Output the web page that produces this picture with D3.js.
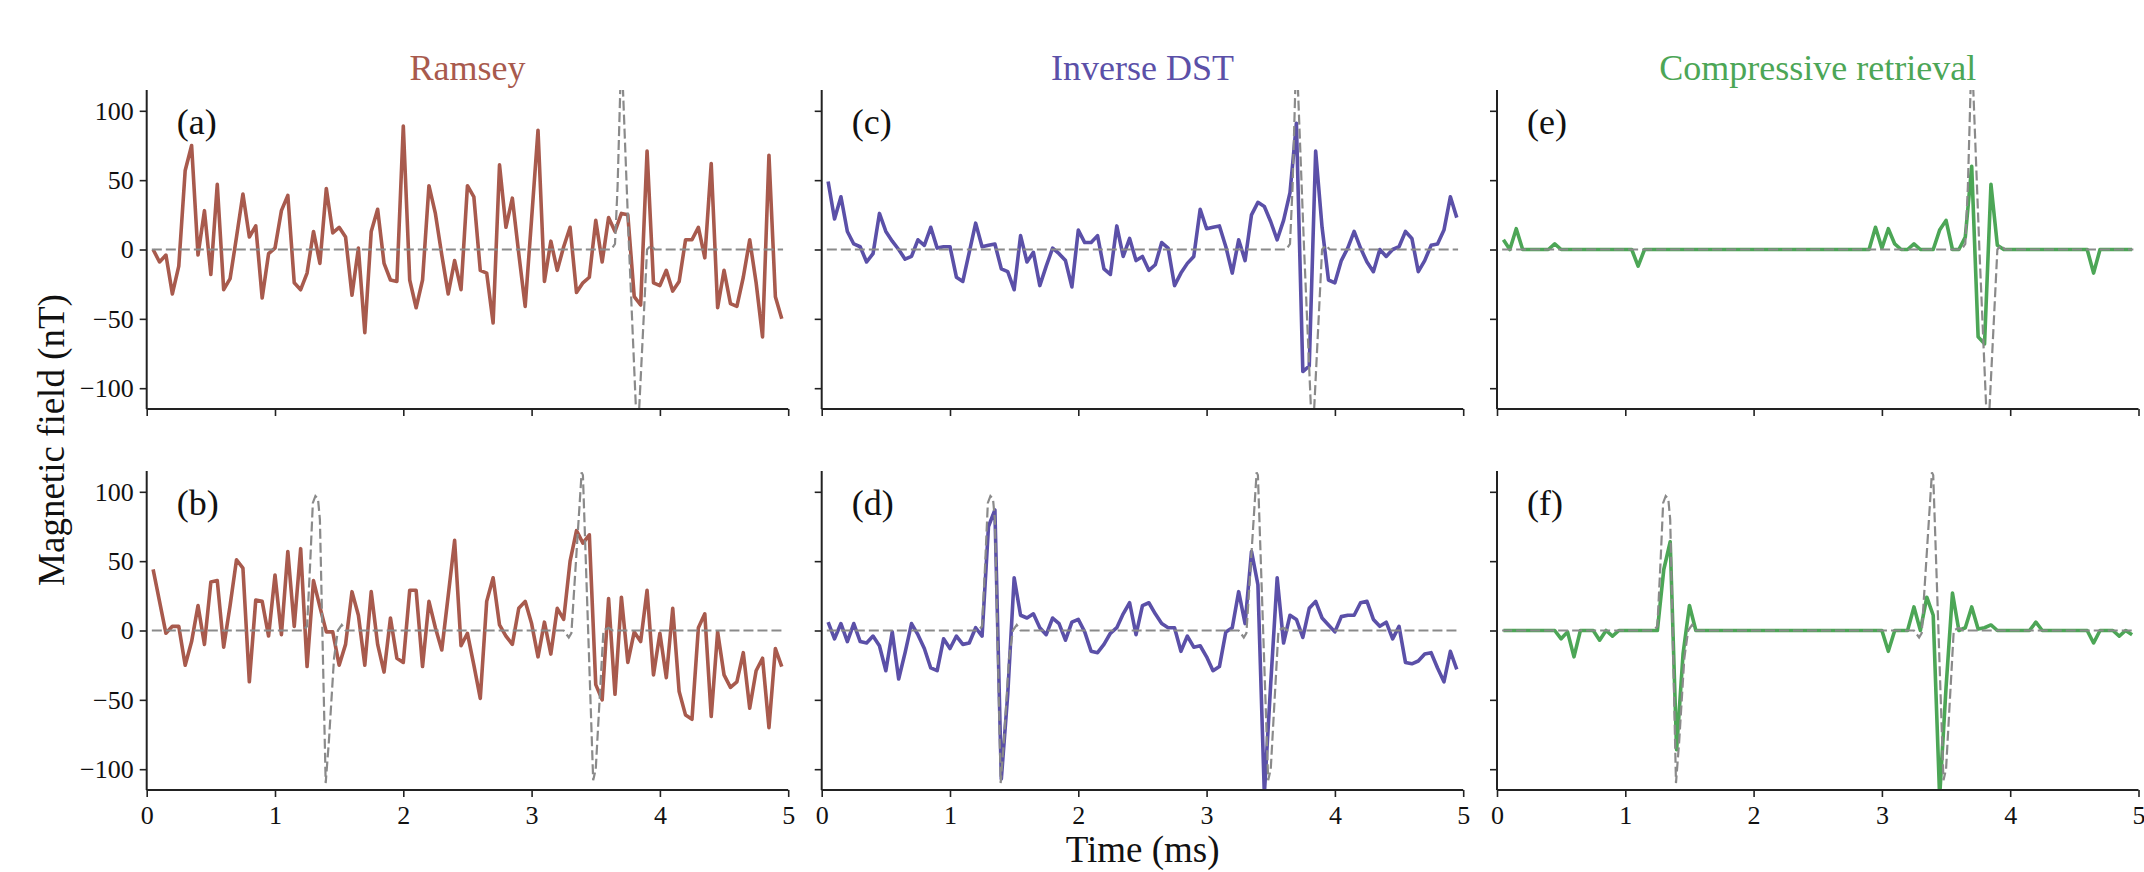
<!DOCTYPE html>
<html>
<head>
<meta charset="utf-8">
<script src="https://cdn.jsdelivr.net/npm/d3@7"></script>
<style>
  html, body { margin: 0; padding: 0; background: #fff; }
  svg { display: block; }
  text { font-family: "Liberation Serif", "Times New Roman", serif; }
</style>
</head>
<body>
<svg id="fig" width="2144" height="872"></svg>
<script>
// Sample times (ms) shared by every reconstructed trace
const times = d3.range(1, 100).map(k => +(k * 0.05).toFixed(2));

// Ramsey reconstruction, single pulse (a) and double pulse (b), nT
const ramseyTop = [0, -9, -4, -32, -12, 57, 75, -4, 28, -18, 47, -29, -21, 9, 40, 9, 17, -35, -3, 1,
  28, 39, -24, -29, -17, 13, -10, 44, 12, 16, 9, -33, 1, -60, 13, 29, -10, -22, -23, 89,
  -22, -42, -22, 46, 26, -4, -32, -8, -29, 46, 38, -15, -17, -53, 61, 16, 37, -3, -41, 22,
  86, -23, 6, -15, 2, 16, -31, -24, -20, 21, -9, 23, 13, 26, 25, -34, -40, 71, -24, -26,
  -15, -30, -23, 7, 7, 16, -6, 62, -42, -15, -39, -41, -20, 7, -24, -63, 68, -34, -50];
const ramseyBottom = [44, 21, -2, 3, 3, -25, -8, 18, -10, 35, 36, -12, 18, 51, 45, -37, 22, 21, -4, 40,
  -3, 57, 3, 59, -26, 36, 17, -1, -1, -25, -10, 28, 11, -25, 28, -10, -30, 9, -20, -23,
  29, 29, -26, 21, 2, -14, 25, 65, -11, -2, -25, -49, 21, 38, 4, -4, -10, 16, 21, 5,
  -19, 6, -17, 16, 8, 50, 72, 63, 69, -39, -50, 23, -46, 24, -23, -1, -8, 29, -32, -2,
  -34, 16, -44, -61, -64, 2, 12, -62, -1, -32, -41, -37, -16, -56, -29, -20, -70, -13, -26];

// Inverse DST reconstruction, (c) and (d), nT
const dstTop = [49, 22, 38, 13, 4, 2, -9, -3, 26, 13, 6, 0, -7, -5, 7, 3, 16, 1, 2, 2,
  -20, -23, -2, 19, 2, 3, 4, -14, -16, -29, 10, -9, -2, -26, -12, 1, -3, -8, -27, 14,
  5, 5, 10, -14, -18, 17, -5, 8, -8, -5, -15, -11, 5, 1, -26, -17, -10, -5, 29, 15,
  16, 17, 2, -17, 7, -8, 25, 34, 31, 20, 7, 21, 41, 91, -88, -84, 71, 16, -22, -24,
  -8, 1, 13, 1, -9, -16, 0, -5, 0, 2, 13, 8, -16, -8, 3, 4, 14, 38, 23];
const dstBottom = [6, -6, 5, -8, 5, -8, -9, -4, -11, -29, -1, -35, -16, 5, -3, -13, -27, -29, -6, -13,
  -4, -10, -9, 2, -4, 75, 87, -107, -46, 38, 11, 9, 12, 2, -3, 9, 5, -7, 6, 8,
  -1, -15, -16, -10, -2, 2, 12, 20, -3, 18, 20, 12, 5, 2, 2, -15, -4, -12, -11, -19,
  -29, -26, -1, 2, 28, 5, 57, 33, -118, -38, 38, -9, 11, 8, -5, 16, 21, 9, 4, -1,
  10, 11, 11, 20, 21, 8, 3, 6, -6, 3, -23, -24, -22, -17, -16, -27, -37, -15, -28];

// Compressive retrieval, (e) and (f), nT
const crTop = [7, 0, 15, 0, 0, 0, 0, 0, 4, 0, 0, 0, 0, 0, 0, 0, 0, 0, 0, 0,
  0, -12, 0, 0, 0, 0, 0, 0, 0, 0, 0, 0, 0, 0, 0, 0, 0, 0, 0, 0,
  0, 0, 0, 0, 0, 0, 0, 0, 0, 0, 0, 0, 0, 0, 0, 0, 0, 0, 16, 1,
  15, 4, 0, 0, 4, 0, 0, 0, 14, 21, 0, 0, 9, 60, -63, -68, 47, 3, 0, 0,
  0, 0, 0, 0, 0, 0, 0, 0, 0, 0, 0, 0, -17, 0, 0, 0, 0, 0, 0];
const crBottom = [0, 0, 0, 0, 0, 0, 0, 0, 0, -6, -1, -19, 0, 0, 0, -7, 0, -4, 0, 0,
  0, 0, 0, 0, 0, 44, 64, -86, -17, 18, 0, 0, 0, 0, 0, 0, 0, 0, 0, 0,
  0, 0, 0, 0, 0, 0, 0, 0, 0, 0, 0, 0, 0, 0, 0, 0, 0, 0, 0, 0,
  -15, 0, 0, 0, 17, 0, 24, 11, -120, -41, 27, 0, 2, 17, 1, 2, 4, 0, 0, 0,
  0, 0, 0, 6, 0, 0, 0, 0, 0, 0, 0, 0, -9, 0, 0, 0, -4, 0, -3];

// True field (dashed): breakpoints of the single and double pulse signals
const refTopT = [0.04, 3.62, 3.65, 3.67, 3.70, 3.76, 3.825, 3.90, 3.93, 3.96, 4.96];
const refTopV = [0, 0, 4, 45, 145, 0, -140, 0, 3, 0, 0];
const refBottomT = [0.04, 1.22, 1.25, 1.275, 1.295, 1.315, 1.335, 1.35, 1.395, 1.42, 1.46, 1.49, 1.52, 1.55,
  3.25, 3.29, 3.31, 3.39, 3.40, 3.48, 3.50, 3.56, 3.60, 3.63, 4.96];
const refBottomV = [0, 0, 3, 50, 92, 97, 95, 80, -110, -80, -20, 0, 4, 0,
  0, -5, -2, 114, 112, -108, -100, 0, 2, 0, 0];

const methods = ["Ramsey", "Inverse DST", "Compressive retrieval"];
const methodColors = ["#a85a4d", "#5b50a8", "#4ca656"];
const panelLabels = [["(a)", "(b)"], ["(c)", "(d)"], ["(e)", "(f)"]];
const xTicks = [0, 1, 2, 3, 4, 5];
const yTicks = [-100, -50, 0, 50, 100];

const series = [[ramseyTop, ramseyBottom], [dstTop, dstBottom], [crTop, crBottom]];
const refs = [
  refTopT.map((t, i) => ({ t, v: refTopV[i] })),
  refBottomT.map((t, i) => ({ t, v: refBottomV[i] }))
];

// Layout
const colLeft = [146.7, 821.7, 1497];
const rowTop = [90, 471];
const pw = 641.5, ph = 319;

const svg = d3.select("#fig");
const defs = svg.append("defs");
defs.append("clipPath").attr("id", "plotclip")
  .append("rect").attr("x", 0).attr("y", 0).attr("width", pw).attr("height", ph);

const x = d3.scaleLinear().domain([0, 5]).range([0, pw]);
const y = d3.scaleLinear().domain([-115, 115]).range([ph, 0]);

const line = d3.line().x(d => x(d.t)).y(d => y(d.v));

methods.forEach((name, c) => {
  // column title
  svg.append("text")
    .attr("x", colLeft[c] + pw / 2).attr("y", 80)
    .attr("text-anchor", "middle")
    .attr("font-size", 36)
    .attr("fill", methodColors[c])
    .text(name);

  [0, 1].forEach(r => {
    const g = svg.append("g").attr("transform", `translate(${colLeft[c]},${rowTop[r]})`);
    const plot = g.append("g").attr("clip-path", "url(#plotclip)");

    const pts = series[c][r].map((v, i) => ({ t: times[i], v }));

    plot.append("path")
      .datum(pts)
      .attr("d", line)
      .attr("fill", "none")
      .attr("stroke", methodColors[c])
      .attr("stroke-width", 3.6)
      .attr("stroke-linejoin", "round");

    plot.append("path")
      .datum(refs[r])
      .attr("d", line)
      .attr("fill", "none")
      .attr("stroke", "#8a8a8a")
      .attr("stroke-width", 2.2)
      .attr("stroke-dasharray", "10,4");

    // axes
    const ax = d3.axisLeft(y).tickValues(yTicks).tickSize(7).tickPadding(6)
      .tickFormat(c === 0 ? d3.format("d") : () => "");
    const gy = g.append("g").call(ax);
    const bx = d3.axisBottom(x).tickValues(xTicks).tickSize(7).tickPadding(9)
      .tickFormat(r === 1 ? d3.format("d") : () => "");
    const gx = g.append("g").attr("transform", `translate(0,${ph})`).call(bx);

    [gy, gx].forEach(a => {
      a.select(".domain").attr("stroke", "#222").attr("stroke-width", 2);
      a.selectAll(".tick line").attr("stroke", "#222").attr("stroke-width", 1.6);
      a.selectAll(".tick text")
        .attr("font-family", "'Liberation Serif', 'Times New Roman', serif")
        .attr("font-size", 26).attr("fill", "#111");
    });
    gy.select(".domain").attr("d", `M0,0V${ph}`);
    gx.select(".domain").attr("d", `M0,0H${pw}`);

    // panel letter
    g.append("text")
      .attr("x", 30).attr("y", 44)
      .attr("font-size", 36).attr("fill", "#111")
      .text(panelLabels[c][r]);
  });
});

// shared axis labels
svg.append("text")
  .attr("transform", `translate(64,${(rowTop[0] + rowTop[1] + ph) / 2}) rotate(-90)`)
  .attr("text-anchor", "middle")
  .attr("font-size", 37).attr("fill", "#111")
  .text("Magnetic field (nT)");

svg.append("text")
  .attr("x", (colLeft[0] + colLeft[2] + pw) / 2).attr("y", 862)
  .attr("text-anchor", "middle")
  .attr("font-size", 37).attr("fill", "#111")
  .text("Time (ms)");
</script>
</body>
</html>
